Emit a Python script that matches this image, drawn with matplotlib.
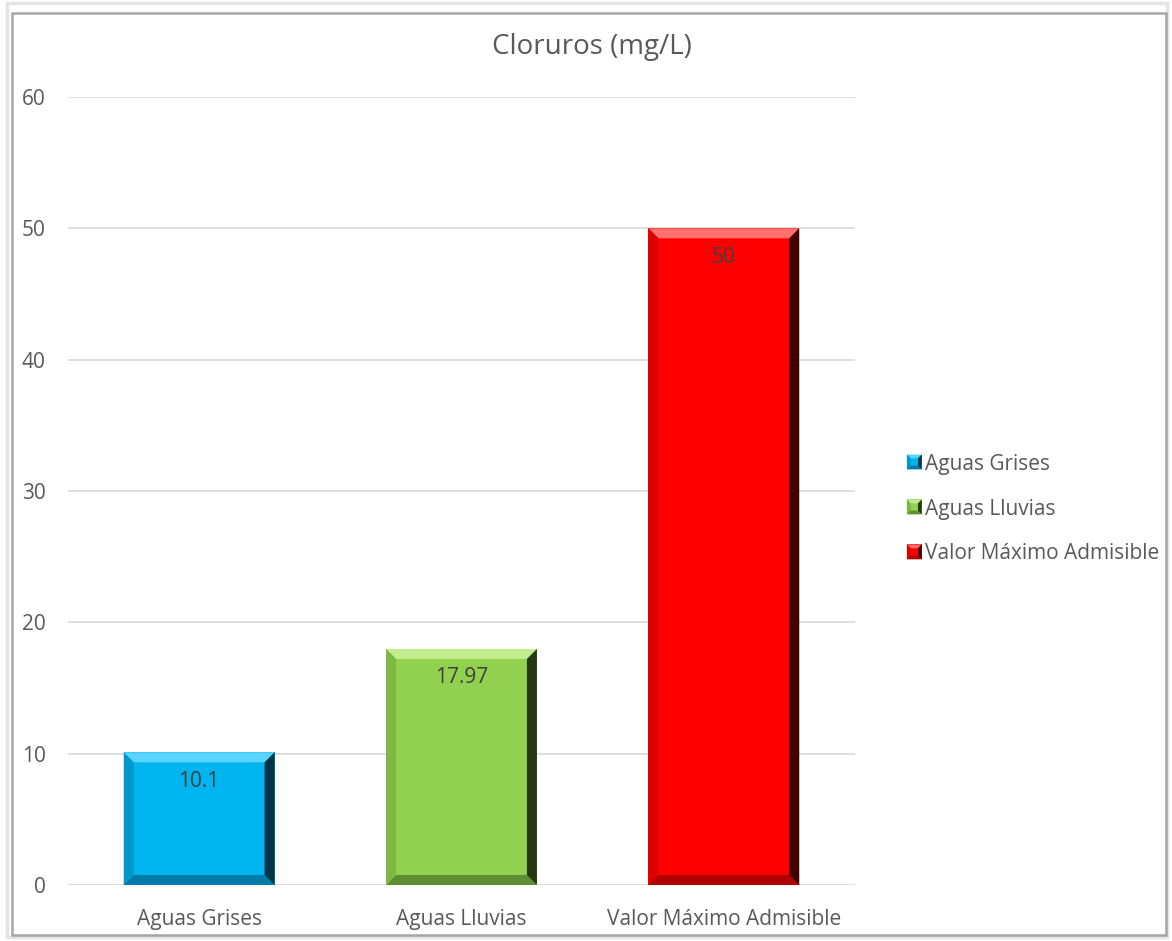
import matplotlib
matplotlib.use("Agg")
import matplotlib.pyplot as plt
from matplotlib.patches import Polygon, Rectangle
from matplotlib.legend_handler import HandlerBase
import numpy as np

plt.rcParams['font.family'] = ['Open Sans', 'DejaVu Sans']

categories = ["Aguas Grises", "Aguas Lluvias", "Valor Máximo Admisible"]
values = [10.1, 17.97, 50]
labels = ["10.1", "17.97", "50"]
title = "Cloruros (mg/L)"
yticks = [0, 10, 20, 30, 40, 50, 60]

# face, top highlight, left shade, bottom shade, right shade
palettes = [
    ("#00B4F0", "#5AD4FF", "#0098CC", "#007AA6", "#003448"),
    ("#92D050", "#C2EC8E", "#7CB843", "#5E8E32", "#243814"),
    ("#FF0000", "#FF7070", "#DD0000", "#B00000", "#400000"),
]

W, H, DPI = 1172, 941, 100
FS = 15
fig = plt.figure(figsize=(W / DPI, H / DPI), dpi=DPI)
ax = fig.add_axes([68 / W, 56 / H, 787 / W, 788 / H])

x = np.arange(len(categories))
bars = ax.bar(x, values, width=0.575, color=[p[0] for p in palettes], zorder=3)

ax.set_ylim(0, 60)
ax.set_xlim(-0.5, 2.5)
ax.set_yticks(yticks)
ax.set_xticks(x)
ax.set_xticklabels(categories)
ax.tick_params(axis='both', length=0, labelsize=FS, colors="#595959")
ax.tick_params(axis='x', pad=17)
ax.tick_params(axis='y', pad=16)
for s in ax.spines.values():
    s.set_visible(False)
ax.grid(axis='y', color="#D9D9D9", linewidth=1.2, zorder=0)
ax.set_axisbelow(True)

fig.canvas.draw()
bev = 10  # bevel width in pixels
for bar, pal, lab in zip(bars, palettes, labels):
    bb = bar.get_window_extent()
    x0, y0, x1, y1 = bb.x0, bb.y0, bb.x1, bb.y1
    b = bev
    faces = [
        ([(x0, y1), (x1, y1), (x1 - b, y1 - b), (x0 + b, y1 - b)], pal[1]),
        ([(x0, y0), (x0, y1), (x0 + b, y1 - b), (x0 + b, y0 + b)], pal[2]),
        ([(x0, y0), (x1, y0), (x1 - b, y0 + b), (x0 + b, y0 + b)], pal[3]),
        ([(x1, y0), (x1, y1), (x1 - b, y1 - b), (x1 - b, y0 + b)], pal[4]),
    ]
    for pts, c in faces:
        fig.patches.append(Polygon(pts, closed=True, transform=None,
                                   facecolor=c, edgecolor='none', zorder=4))
    ax.annotate(lab, xy=(bar.get_x() + bar.get_width() / 2, bar.get_height()),
                xytext=(0, -29), textcoords='offset pixels', ha='center',
                va='center', fontsize=FS, color="#404040", zorder=6)

fig.text(592 / W, 1 - 47 / H, title, ha='center', va='center',
         fontsize=20, color="#595959")


class BevelSquare(HandlerBase):
    def __init__(self, pal):
        super().__init__()
        self.pal = pal

    def create_artists(self, legend, orig, xd, yd, width, height, fontsize, trans):
        s = min(width, height)
        cx = xd + width - s / 2
        cy = yd + height / 2
        x0, x1, y0, y1 = cx - s / 2, cx + s / 2, cy - s / 2, cy + s / 2
        b = s * 0.25
        pal = self.pal
        arts = [Rectangle((x0, y0), s, s, facecolor=pal[0], edgecolor='none', transform=trans)]
        polys = [
            ([(x0, y1), (x1, y1), (x1 - b, y1 - b), (x0 + b, y1 - b)], pal[1]),
            ([(x0, y0), (x0, y1), (x0 + b, y1 - b), (x0 + b, y0 + b)], pal[2]),
            ([(x0, y0), (x1, y0), (x1 - b, y0 + b), (x0 + b, y0 + b)], pal[3]),
            ([(x1, y0), (x1, y1), (x1 - b, y1 - b), (x1 - b, y0 + b)], pal[4]),
        ]
        for pts, c in polys:
            arts.append(Polygon(pts, closed=True, facecolor=c, edgecolor='none', transform=trans))
        return arts


handles = [Rectangle((0, 0), 1, 1) for _ in categories]
leg = fig.legend(handles, categories, loc='center left',
                 bbox_to_anchor=(888 / W, 1 - 509 / H), frameon=False,
                 fontsize=FS, labelcolor="#595959", handlelength=0.72,
                 handleheight=0.72, handletextpad=0.15, labelspacing=1.15,
                 handler_map={h: BevelSquare(p) for h, p in zip(handles, palettes)})

# chart frame
fig.patches.append(Rectangle((7 / W, 4 / H), 1160 / W, 934 / H, transform=fig.transFigure,
                             fill=False, edgecolor="#E4E4E4", linewidth=2.5, zorder=1))
fig.patches.append(Rectangle((12 / W, 6 / H), 1154 / W, 922 / H, transform=fig.transFigure,
                             fill=False, edgecolor="#A6A6A6", linewidth=1.8, zorder=1))

fig.savefig("out.png", dpi=DPI, facecolor="white")
